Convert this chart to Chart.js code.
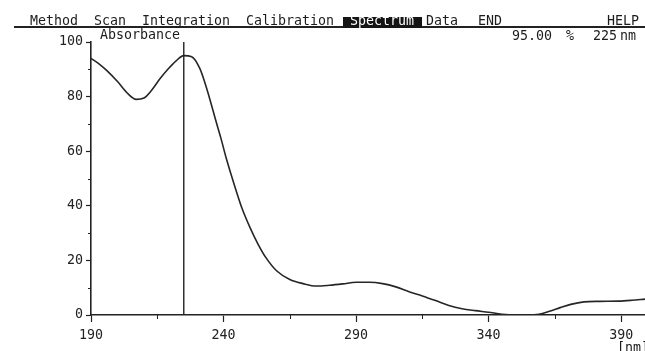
<!DOCTYPE html>
<html>
<head>
<meta charset="utf-8">
<script src="https://cdn.jsdelivr.net/npm/chart.js@4/dist/chart.umd.min.js"></script>
<style>
  body { margin: 0; background: #fff; }
  #wrap { position: relative; width: 645px; height: 351px; overflow: hidden; background: #fff; }
  #chart { position: absolute; left: 0; top: 0; }
  .t { position: absolute; font: 13.3px/16px "DejaVu Sans Mono", monospace; color: #1c1c1c; white-space: pre; }
  .rule { position: absolute; left: 14px; top: 26px; width: 631px; height: 1.5px; background: #222; }
  .hl { position: absolute; left: 343px; top: 17px; width: 79px; height: 11px; background: #151515; }
</style>
</head>
<body>
<div id="wrap">
  <canvas id="chart" width="645" height="351"></canvas>
  <div class="rule"></div>
  <div class="hl"></div>
  <span class="t" style="left:30px;top:13px">Method</span>
  <span class="t" style="left:94px;top:13px">Scan</span>
  <span class="t" style="left:142px;top:13px">Integration</span>
  <span class="t" style="left:246px;top:13px">Calibration</span>
  <span class="t" style="left:350px;top:13px;color:#fff">Spectrum</span>
  <span class="t" style="left:426px;top:13px">Data</span>
  <span class="t" style="left:478px;top:13px">END</span>
  <span class="t" style="left:607px;top:13px">HELP</span>
  <span class="t" id="ylab" style="left:100px;top:27px"></span>
  <span class="t" id="rdval" style="left:512px;top:28px"></span>
  <span class="t" style="left:566px;top:28px">%</span>
  <span class="t" id="rdnm" style="left:593px;top:28px"></span>
  <span class="t" style="left:620px;top:28px">nm</span>
  <span class="t" id="xlab" style="left:617px;top:340px"></span>
</div>
<script>
// spectrum scan, wavelength in nm vs absorbance (%)
var wavelengths = [190, 193, 196, 200, 204, 207, 210, 213, 216, 219, 222, 225, 228, 231, 233, 235,
                   237, 239, 241, 243, 245, 247, 250, 253, 256, 260, 265, 270, 275, 280, 285, 290,
                   295, 300, 305, 310, 315, 320, 325, 330, 335, 340, 345, 350, 355, 359, 363, 367,
                   371, 376, 382, 389, 394, 399]
var absorbance = [94, 92, 89.5, 85.5, 81, 79, 79.5, 82.5, 86.5, 90, 93, 95, 94.6, 90.4, 85, 78.5,
                  71.5, 64.8, 57.5, 51, 44.8, 39, 32, 26, 21, 16.2, 13, 11.5, 10.6, 10.9, 11.4, 12,
                  12, 11.5, 10.3, 8.5, 7, 5.3, 3.5, 2.3, 1.6, 1, 0.3, 0, 0, 0.3, 1.4, 2.7,
                  3.9, 4.8, 5, 5.1, 5.4, 5.8]
var xLabels = [190, 240, 290, 340, 390]
var xMinor = [215, 265, 315, 365]
var yLabels = [0, 20, 40, 60, 80, 100]
var yMinor = [10, 30, 50, 70, 90]
var cursorNm = 225
var cursorValue = 95.00
var yTitle = 'Absorbance'
var xUnit = '[nm]'

var ink = '#222'

document.getElementById('ylab').textContent = yTitle
document.getElementById('xlab').textContent = xUnit
document.getElementById('rdval').textContent = cursorValue.toFixed(2)
document.getElementById('rdnm').textContent = String(cursorNm)

var points = wavelengths.map(function(w, i){ return {x: w, y: absorbance[i]} })

function asTicks(list){
  return list.slice().sort(function(a, b){ return a - b }).map(function(v){ return {value: v} })
}

// short minor ticks + the spectrum cursor line
var extras = {
  id: 'extras',
  afterDatasetsDraw: function(chart){
    var ctx = chart.ctx, area = chart.chartArea
    var x = chart.scales.x, y = chart.scales.y
    ctx.save()
    ctx.strokeStyle = ink
    ctx.lineWidth = 1
    ctx.beginPath()
    yMinor.forEach(function(v){
      var py = Math.round(y.getPixelForValue(v)) + 0.5
      ctx.moveTo(area.left - 3, py); ctx.lineTo(area.left, py)
    })
    xMinor.forEach(function(v){
      var px = Math.round(x.getPixelForValue(v)) + 0.5
      ctx.moveTo(px, area.bottom); ctx.lineTo(px, area.bottom + 4)
    })
    ctx.stroke()
    var cx = x.getPixelForValue(cursorNm)
    ctx.lineWidth = 1.4
    ctx.beginPath()
    ctx.moveTo(cx, area.top); ctx.lineTo(cx, area.bottom)
    ctx.stroke()
    ctx.restore()
  }
}

var font = {family: '"DejaVu Sans Mono", monospace', size: 13.3}

new Chart(document.getElementById('chart').getContext('2d'), {
  type: 'line',
  data: {
    datasets: [{
      label: yTitle,
      data: points,
      borderColor: '#262626',
      borderWidth: 1.6,
      pointRadius: 0,
      fill: false,
      cubicInterpolationMode: 'monotone'
    }]
  },
  options: {
    responsive: false,
    animation: false,
    devicePixelRatio: 1,
    layout: {padding: {top: 42, left: 0, right: 0, bottom: 0}},
    plugins: {legend: {display: false}, tooltip: {enabled: false}},
    scales: {
      x: {
        type: 'linear',
        min: 190,
        max: 399,
        afterBuildTicks: function(s){ s.ticks = asTicks(xLabels) },
        afterFit: function(s){ s.height = 36 },
        border: {display: true, color: ink, width: 1.6},
        grid: {drawOnChartArea: false, drawTicks: true, tickLength: 7, tickWidth: 1.2, tickColor: ink},
        ticks: {
          autoSkip: false,
          maxRotation: 0,
          padding: 6,
          color: ink,
          font: font
        }
      },
      y: {
        min: 0,
        max: 100,
        afterBuildTicks: function(s){ s.ticks = asTicks(yLabels) },
        afterFit: function(s){ s.width = 91 },
        border: {display: true, color: ink, width: 1.6},
        grid: {drawOnChartArea: false, drawTicks: true, tickLength: 5, tickWidth: 1.2, tickColor: ink},
        ticks: {
          autoSkip: false,
          padding: 3,
          color: ink,
          font: font
        }
      }
    }
  },
  plugins: [extras]
})
</script>
</body>
</html>
